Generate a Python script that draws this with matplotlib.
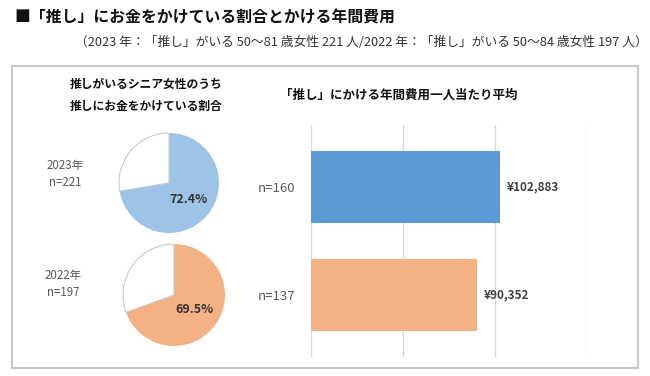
import matplotlib
matplotlib.use("Agg")
import matplotlib.pyplot as plt
from matplotlib.patches import Rectangle

plt.rcParams["font.family"] = ["Noto Sans CJK JP", "DejaVu Sans"]

# data
years = ["2023年", "2022年"]
pie_n = ["n=221", "n=197"]
spend_share = [72.4, 69.5]
bar_n = ["n=160", "n=137"]
annual_cost = [102883, 90352]

title = "■「推し」にお金をかけている割合とかける年間費用"
subtitle = "（2023 年：「推し」がいる 50～81 歳女性 221 人/2022 年：「推し」がいる 50～84 歳女性 197 人）"
pie_title = "推しがいるシニア女性のうち\n推しにお金をかけている割合"
bar_title = "「推し」にかける年間費用一人当たり平均"

pie_colors = ["#9DC3E6", "#F4B183"]
bar_colors = ["#5B9BD5", "#F4B183"]

W, H = 650, 376
fig = plt.figure(figsize=(W / 100, H / 100), dpi=100)


def fx(x):
    return x / W


def fy(y):
    return 1 - y / H


# frame
fig.patches.append(Rectangle((fx(12), fy(368)), fx(638) - fx(12), fy(66) - fy(368),
                             transform=fig.transFigure, fill=False,
                             edgecolor="#c8c8c8", linewidth=1.5))

fig.text(fx(14), fy(17), title, fontsize=11.4, fontweight="bold", color="#111111",
         va="center", ha="left")
fig.text(fx(75), fy(42), subtitle, fontsize=9.2, color="#333333", va="center", ha="left")

fig.text(fx(146), fy(95), pie_title, fontsize=8.5, fontweight="bold", color="#111111",
         va="center", ha="center", linespacing=1.9)
fig.text(fx(399), fy(95), bar_title, fontsize=9, fontweight="bold", color="#111111",
         va="center", ha="center")

# pies
centers = [(169, 183, 51), (174, 295, 52)]
label_pos = [(65, 166), (63, 275)]
for i, (cx, cy, r) in enumerate(centers):
    ax = fig.add_axes([fx(cx - r), fy(cy + r), 2 * r / W, 2 * r / H])
    share = spend_share[i]
    wedges, _, autotexts = ax.pie(
        [share, 100 - share], colors=[pie_colors[i], "white"], startangle=90,
        counterclock=False, radius=1, autopct=lambda p: f"{p:.1f}%" if p > 50 else "",
        pctdistance=0.5,
        textprops=dict(fontsize=9, fontweight="bold", color="#333333"))
    wedges[0].set_linewidth(0)
    wedges[1].set_edgecolor("#c9c9c9")
    wedges[1].set_linewidth(0.8)
    ax.set_xlim(-1.02, 1.02)
    ax.set_ylim(-1.02, 1.02)
    lx, ly = label_pos[i]
    fig.text(fx(lx), fy(ly), years[i], fontsize=8.3, color="#595959", ha="center", va="center")
    fig.text(fx(lx), fy(ly + 17), pie_n[i], fontsize=8.3, color="#595959", ha="center", va="center")

# bars
bx = fig.add_axes([fx(310.7), fy(357), (586.7 - 310.7) / W, (357 - 125) / H])
pos = list(range(len(annual_cost)))
bars = bx.barh(pos, annual_cost, height=0.667, color=bar_colors, zorder=2)
bx.set_xlim(0, 150000)
bx.set_ylim(1.575, -0.575)
bx.set_xticks([0, 50000, 100000, 150000])
bx.xaxis.grid(True, color="#d9d9d9", linewidth=1, zorder=0)
bx.tick_params(axis="x", length=0, labelbottom=False)
bx.set_yticks(pos)
bx.set_yticklabels(bar_n, fontsize=9.5, color="#595959")
bx.tick_params(axis="y", length=0, pad=11)
for s in bx.spines.values():
    s.set_visible(False)
for b, v in zip(bars, annual_cost):
    bx.annotate(f"¥{v:,}", (b.get_width(), b.get_y() + b.get_height() / 2),
                xytext=(7, 0), textcoords="offset pixels", va="center", ha="left",
                fontsize=8.5, fontweight="bold", color="#404040")

fig.savefig("out.png", dpi=100)
